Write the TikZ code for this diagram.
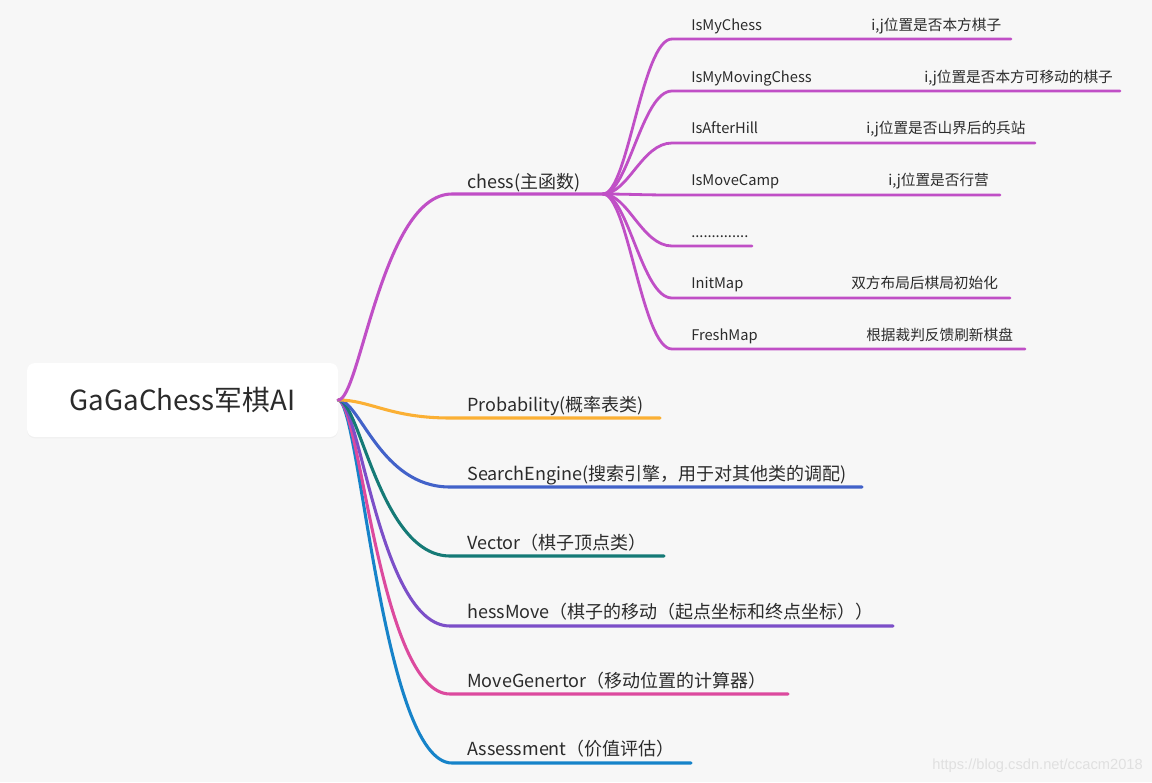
\documentclass[tikz,border=0pt]{standalone}
\usepackage{fontspec}
\setmainfont{Noto Sans CJK SC}
\newfontfamily\wmfont{Liberation Sans}
\usetikzlibrary{shadows}
\definecolor{bgc}{HTML}{F7F7F7}
\definecolor{txt}{HTML}{2B2B2B}
\definecolor{cchess}{HTML}{C04FC6}
\definecolor{cprob}{HTML}{FBB034}
\definecolor{csearch}{HTML}{4262C9}
\definecolor{cvec}{HTML}{157A76}
\definecolor{cmove}{HTML}{7C4FC8}
\definecolor{cgen}{HTML}{DC4A9E}
\definecolor{cass}{HTML}{1683C9}
\begin{document}
\begin{tikzpicture}[x=0.75pt,y=-0.75pt,
  br/.style={line width=2.3pt,line cap=round},
  sub/.style={line width=2.1pt,line cap=round,cchess},
  mainlbl/.style={anchor=base west,inner sep=0pt,font=\fontsize{13.5}{15}\selectfont,text=txt},
  sublbl/.style={anchor=base west,inner sep=0pt,font=\fontsize{11}{12}\selectfont,text=txt},
  rootbox/.style={fill=white,rounded corners=6pt,minimum width=233.25pt,minimum height=55.5pt,inner sep=0pt,
    drop shadow={shadow xshift=0pt,shadow yshift=-1pt,opacity=0.06},font=\fontsize{20.8}{23}\selectfont,text=txt}]
\fill[bgc] (0,0) rectangle (1152,782);
\useasboundingbox (0,0) rectangle (1152,782);

% root
\node[rootbox] (root) at (182.5,400) {GaGaChess军棋AI};

% main branch coordinates
\coordinate (chS) at (452,194);   \coordinate (chE) at (603,194);
\coordinate (prS) at (450,418);   \coordinate (prE) at (660,418);
\coordinate (seS) at (450,487);   \coordinate (seE) at (862,487);
\coordinate (veS) at (450,556);   \coordinate (veE) at (664,556);
\coordinate (hmS) at (450,626);   \coordinate (hmE) at (893,626);
\coordinate (mgS) at (450,694);   \coordinate (mgE) at (788,694);
\coordinate (asS) at (452,763);   \coordinate (asE) at (691,763);

\draw[br,cass]    (root.east) .. controls (360,400) and (382,763) .. (asS) -- (asE);
\draw[br,cgen]    (root.east) .. controls (360,400) and (380,694) .. (mgS) -- (mgE);
\draw[br,cmove]   (root.east) .. controls (360,400) and (380,626) .. (hmS) -- (hmE);
\draw[br,cvec]    (root.east) .. controls (360,400) and (380,556) .. (veS) -- (veE);
\draw[br,csearch] (root.east) .. controls (360,400) and (380,487) .. (seS) -- (seE);
\draw[br,cprob]   (root.east) .. controls (370,400) and (390,418) .. (prS) -- (prE);
\draw[br,cchess]  (root.east) .. controls (360,400) and (382,194) .. (chS) -- (chE);

\node[mainlbl] (lch) at (467,188) {chess(主函数)};
\node[mainlbl] (lpr) at (467,411) {Probability(概率表类)};
\node[mainlbl] (lse) at (467,480) {SearchEngine(搜索引擎，用于对其他类的调配)};
\node[mainlbl] (lve) at (467,549) {Vector（棋子顶点类）};
\node[mainlbl] (lhm) at (467,618) {hessMove（棋子的移动（起点坐标和终点坐标））};
\node[mainlbl] (lmg) at (467,687) {MoveGenertor（移动位置的计算器）};
\node[mainlbl] (las) at (467,755) {Assessment（价值评估）};

% chess children
\foreach \n/\y/\e in {a/39/1011,b/91/1120,c/143/1035,d/195/1000,e/246/752,f/298/1010,g/349/1025}{
  \coordinate (\n S) at (672,\y);
  \coordinate (\n E) at (\e,\y);
  \draw[sub] (chE) .. controls (628,194) and (642,\y) .. (\n S) -- (\n E);
}

\node[sublbl] (ta) at (691,30) {IsMyChess};
\node[sublbl] (da) at (871,30) {i,j位置是否本方棋子};
\node[sublbl] (tb) at (691,82) {IsMyMovingChess};
\node[sublbl] (db) at (924,82) {i,j位置是否本方可移动的棋子};
\node[sublbl] (tc) at (691,133) {IsAfterHill};
\node[sublbl] (dc) at (866,133) {i,j位置是否山界后的兵站};
\node[sublbl] (td) at (691,185) {IsMoveCamp};
\node[sublbl] (dd) at (888,185) {i,j位置是否行营};
\node[sublbl] (te) at (691,237) {..............};
\node[sublbl] (tf) at (691,288) {InitMap};
\node[sublbl] (df) at (851,288) {双方布局后棋局初始化};
\node[sublbl] (tg) at (691,340) {FreshMap};
\node[sublbl] (dg) at (866,340) {根据裁判反馈刷新棋盘};

\node[anchor=base east,inner sep=0pt,font=\wmfont\fontsize{11}{12}\selectfont,text=black!12] (wm) at (1143,769) {https://blog.csdn.net/ccacm2018};
\end{tikzpicture}
\end{document}
